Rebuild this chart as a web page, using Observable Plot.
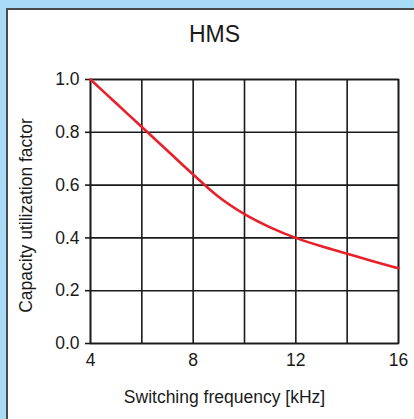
<!DOCTYPE html>
<html>
<head>
<meta charset="utf-8">
<script src="https://cdn.jsdelivr.net/npm/d3@7"></script>
<script src="https://cdn.jsdelivr.net/npm/@observablehq/plot@0.6"></script>
<style>
  html, body { margin: 0; padding: 0; width: 414px; height: 419px; overflow: hidden; background: #a8dcf6; }
  #panel { position: absolute; left: 6px; top: 8px; width: 460px; height: 460px; background: #fff; border: 2px solid #4a4a4a; box-sizing: border-box; }
  #chart { position: absolute; left: 0; top: 0; }
  #chart svg { background: transparent !important; }
</style>
</head>
<body>
<div id="panel"></div>
<div id="chart"></div>
<script>
const title = "HMS";
const xLabel = "Switching frequency [kHz]";
const yLabel = "Capacity utilization factor";
const freq =   [4, 5, 6, 7, 8, 9, 10, 11, 12, 13, 14, 15, 16];
const factor = [1.0, 0.91, 0.82, 0.73, 0.64, 0.555, 0.49, 0.44, 0.40, 0.368, 0.34, 0.312, 0.285];
const xTicks = [4, 8, 12, 16];
const xGrid = [4, 6, 8, 10, 12, 14, 16];
const yTicks = [0, 0.2, 0.4, 0.6, 0.8, 1.0];

const data = freq.map((f, i) => ({f, v: factor[i]}));
const font = "'Liberation Sans', Arial, Helvetica, sans-serif";
const ink = "#1a1a1a";

const chart = Plot.plot({
  width: 414,
  height: 419,
  marginLeft: 90,
  marginRight: 16,
  marginTop: 79,
  marginBottom: 76,
  style: {fontFamily: font, fontSize: "17px", color: ink, background: "transparent"},
  x: {domain: [4, 16], ticks: xTicks, label: null},
  y: {domain: [0, 1], ticks: yTicks, label: null},
  marks: [
    Plot.gridX(xGrid, {stroke: ink, strokeOpacity: 1, strokeWidth: 1.6}),
    Plot.gridY(yTicks, {stroke: ink, strokeOpacity: 1, strokeWidth: 1.6}),
    Plot.frame({stroke: ink, strokeWidth: 1.6}),
    Plot.axisX(xTicks, {tickSize: 0, tickPadding: 10, fontSize: 17.5, fill: ink}),
    Plot.axisY(yTicks, {tickSize: 5, tickPadding: 6, strokeWidth: 1.6, stroke: ink, fontSize: 17.5, fill: ink, tickFormat: d3.format(".1f")}),
    Plot.line(data, {x: "f", y: "v", stroke: "#e8202a", strokeWidth: 2.6, curve: "monotone-x"}),
    Plot.text([title], {frameAnchor: "top", dx: -30, dy: -54, lineAnchor: "top", textAnchor: "middle", fontSize: 23, fill: ink}),
    Plot.text([xLabel], {frameAnchor: "bottom", dx: -20, dy: 59, lineAnchor: "bottom", textAnchor: "middle", fontSize: 17.5, fill: ink}),
    Plot.text([yLabel], {frameAnchor: "left", dx: -64, dy: 4, rotate: -90, lineAnchor: "middle", textAnchor: "middle", fontSize: 17.5, fill: ink})
  ]
});
document.getElementById("chart").appendChild(chart);
</script>
</body>
</html>
